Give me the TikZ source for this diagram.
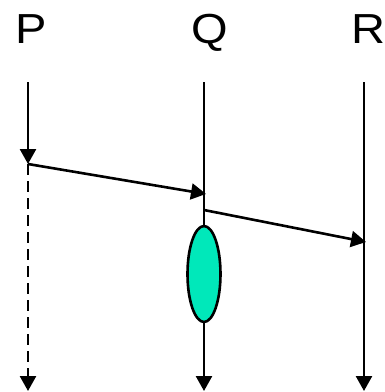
\documentclass[tikz,border=0pt]{standalone}
\usepackage{fontspec}
\setmainfont{Liberation Sans}
\usetikzlibrary{arrows.meta,shapes.geometric}
\definecolor{tealfill}{RGB}{0,232,186}
\newcommand{\widelabel}[1]{\scalebox{1.12}[1]{#1}}
\tikzset{
  tip/.style={-{Triangle[length=15pt,width=16pt]}},
  lifeline/.style={line width=2.6pt,tip},
  plain/.style={line width=2.6pt},
  msg/.style={line width=2.6pt,tip},
  lbl/.style={font=\fontsize{42}{42}\selectfont,inner sep=0pt,anchor=base},
  proc/.style={ellipse,draw,line width=2.6pt,fill=tealfill,minimum width=33pt,minimum height=96pt,inner sep=0pt}
}
\begin{document}
\begin{tikzpicture}[x=1pt,y=-1pt]
\useasboundingbox (0,0) rectangle (385,392);
% labels
\node[lbl] (P) at (31.5,43.5) {\widelabel{P}};
\node[lbl] (Q) at (210,43.5) {\widelabel{Q}};
\node[lbl] (R) at (368,43.5) {\widelabel{R}};
% coordinates
\coordinate (Ptop) at (28,82);
\coordinate (Pev) at (28,164);
\coordinate (Pbot) at (28,391);
\coordinate (Qtop) at (204,82);
\coordinate (Qrecv) at (206,194);
\coordinate (Qsend) at (204,210);
\coordinate (Qbot) at (204,391);
\coordinate (Rtop) at (364,82);
\coordinate (Rrecv) at (366,242);
\coordinate (Rbot) at (364,391);
% ellipse
\node[proc] (E) at (204,274) {};
% P lifeline
\draw[lifeline] (Ptop) -- (Pev);
\draw[lifeline,dash pattern=on 11pt off 6pt] (Pev) -- (Pbot);
% Q lifeline
\draw[plain] (Qtop) -- (E.north);
\draw[lifeline] (E.south) -- (Qbot);
% R lifeline
\draw[lifeline] (Rtop) -- (Rbot);
% messages
\draw[msg] (Pev) -- (Qrecv);
\draw[msg] (Qsend) -- (Rrecv);
\end{tikzpicture}
\end{document}
